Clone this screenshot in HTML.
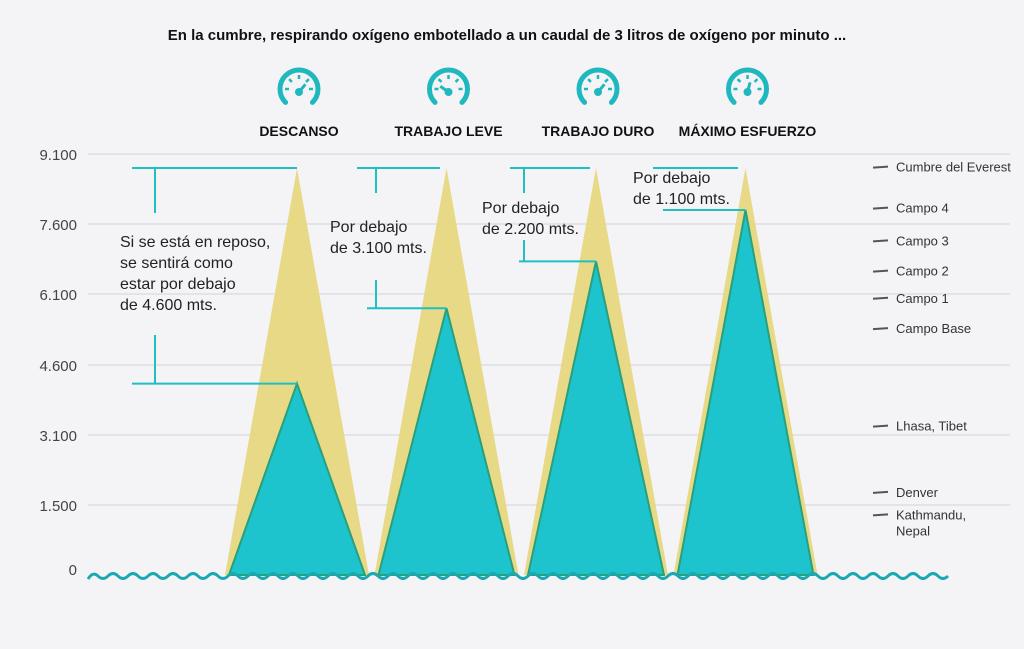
<!DOCTYPE html>
<html><head><meta charset="utf-8"><style>
html,body{margin:0;padding:0;background:#f4f4f6;}
svg{display:block;font-family:"Liberation Sans",sans-serif;}
</style></head><body>
<svg id="chart" width="1024" height="649" viewBox="0 0 1024 649">
<text x="507" y="40" text-anchor="middle" font-size="15" font-weight="bold" fill="#111">En la cumbre, respirando oxígeno embotellado a un caudal de 3 litros de oxígeno por minuto ...</text>
<g id="grid"></g>
<g id="yaxis"></g>
<g id="peaks"></g>
<g id="annot" stroke="#1fbfc4" stroke-width="2" fill="none"></g>
<g id="annotText" font-size="16" fill="#222"></g>
<g id="gauges"></g>
<g id="places" font-size="13" fill="#333"></g>
<path id="wave" fill="none" stroke="#1aa9b0" stroke-width="3"/>
</svg>
<script>
const tickVals=[0,1500,3100,4600,6100,7600,9100];
const tickLabels=["0","1.500","3.100","4.600","6.100","7.600","9.100"];
const tickY=[575,505,435,365,294,224,154];
const categories=["DESCANSO","TRABAJO LEVE","TRABAJO DURO","MÁXIMO ESFUERZO"];
const summitAlt=[8800,8800,8800,8800];
const equivAlt=[4200,5800,6800,7900];
const notes=[["Si se está en reposo,","se sentirá como","estar por debajo","de 4.600 mts."],["Por debajo","de 3.100 mts."],["Por debajo","de 2.200 mts."],["Por debajo","de 1.100 mts."]];
const placeNames=[["Cumbre del Everest"],["Campo 4"],["Campo 3"],["Campo 2"],["Campo 1"],["Campo Base"],["Lhasa, Tibet"],["Denver"],["Kathmandu,","Nepal"]];
const placeAlt=[8830,7950,7250,6600,6020,5380,3300,1800,1300];

const NS="http://www.w3.org/2000/svg";
function yS(v){for(let i=0;i<tickVals.length-1;i++){if(v<=tickVals[i+1]){const t=(v-tickVals[i])/(tickVals[i+1]-tickVals[i]);return tickY[i]+t*(tickY[i+1]-tickY[i]);}}return tickY[tickY.length-1];}
function cx(i){return 297+i*149.5;}
function mk(tag,attrs,parent){const e=document.createElementNS(NS,tag);for(const k in attrs)e.setAttribute(k,attrs[k]);parent.appendChild(e);return e;}
function byId(id){return document.getElementById(id);}

tickVals.forEach((v,i)=>{
 if(v>0){
 const l=mk('line',{x1:88,x2:1010,y1:yS(v),y2:yS(v),stroke:'#e4e4e8','stroke-width':2},byId('grid'));
 
 
 }
 const t=mk('text',{x:77,y:yS(v)+(v>0?6:0),'text-anchor':'end','font-size':15,fill:'#444'},byId('yaxis'));
 t.textContent=tickLabels[i];
 
 
});

categories.forEach((c,i)=>{
 const x=cx(i),b=yS(0);
 const ys=yS(summitAlt[i]);
 const p1=mk('polygon',{points:`${x-72},${b} ${x},${ys} ${x+72},${b}`,fill:'#e6d67a',opacity:0.9},byId('peaks'));
 
 
 const ye=yS(equivAlt[i]);
 const p2=mk('polygon',{points:`${x-68},${b} ${x},${ye} ${x+68},${b}`,fill:'#1ec4cd',stroke:'#2a9f7a','stroke-width':2},byId('peaks'));
 
 
 const gx=x+2, gy=89, r=19;
 const gg=mk('g',{},byId('gauges'));
 
 
 const s=Math.sin(135*Math.PI/180)*r, co=-Math.cos(135*Math.PI/180)*r;
 mk('path',{d:`M${gx-s},${gy+co} A${r},${r} 0 1 1 ${gx+s},${gy+co}`,fill:'none',stroke:'#1fb8be','stroke-width':5,'stroke-linecap':'round'},gg);
 for(let k=0;k<5;k++){const a=(-90+k*45)*Math.PI/180;mk('line',{x1:gx+10*Math.sin(a),y1:gy-10*Math.cos(a),x2:gx+14*Math.sin(a),y2:gy-14*Math.cos(a),stroke:'#1fb8be','stroke-width':2.5},gg);}
 const ang=[40,-55,40,15][i]*Math.PI/180;
 mk('line',{x1:gx,y1:gy+3,x2:gx+10*Math.sin(ang),y2:gy+3-10*Math.cos(ang),stroke:'#1fb8be','stroke-width':3},gg);
 mk('circle',{cx:gx,cy:gy+3,r:4,fill:'#1fb8be'},gg);
 const lt=mk('text',{x:gx,y:136,'text-anchor':'middle','font-size':14,'font-weight':'bold',fill:'#111'},byId('gauges'));
 lt.textContent=c;
 
 
});

const A=byId('annot');
function ln(x1,y1,x2,y2){const l=mk('line',{x1,y1,x2,y2},A);}
const topY=yS(summitAlt[0]);
ln(132,topY,cx(0),topY);ln(155,topY,155,213);ln(155,335,155,yS(equivAlt[0]));ln(132,yS(equivAlt[0]),cx(0),yS(equivAlt[0]));
ln(357,topY,440,topY);ln(376,topY,376,193);ln(376,280,376,yS(equivAlt[1]));ln(367,yS(equivAlt[1]),cx(1),yS(equivAlt[1]));
ln(510,topY,590,topY);ln(524,topY,524,193);ln(524,240,524,yS(equivAlt[2]));ln(519,yS(equivAlt[2]),cx(2),yS(equivAlt[2]));
ln(653,topY,738,topY);ln(663,yS(equivAlt[3]),cx(3),yS(equivAlt[3]));
const notePos=[[120,247],[330,232],[482,213],[633,183]];
notes.forEach((n,i)=>{n.forEach((s,j)=>{const t=mk('text',{x:notePos[i][0],y:notePos[i][1]+j*21},byId('annotText'));t.textContent=s;});});

placeNames.forEach((n,i)=>{
 const yy=yS(placeAlt[i]);
 const l=mk('line',{x1:873,x2:888,y1:yy+1,y2:yy,stroke:'#555','stroke-width':2},byId('places'));
 
 
 n.forEach((s,j)=>{const t=mk('text',{x:896,y:yy+5+j*16},byId('places'));t.textContent=s;});
});

let d='M88,579';
for(let x=88;x<932;x+=20){d+=` Q${x+5},571 ${x+10},576 Q${x+15},581 ${x+20},576`;}
const w=byId('wave');w.setAttribute('d',d);


</script>
</body></html>
